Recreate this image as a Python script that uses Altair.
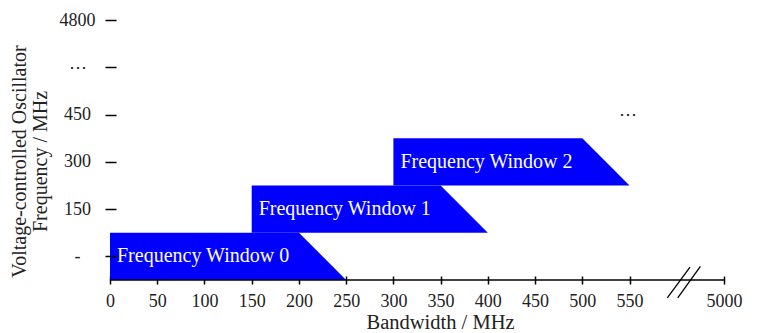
import altair as alt
import pandas as pd

# ---- data ----
windows = ["Frequency Window 0", "Frequency Window 1", "Frequency Window 2"]
vco_index = [0, 1, 2]              # band index on the VCO axis
bw_left = [0, 150, 300]            # left edge (MHz)
bw_top_right = [200, 350, 500]     # right edge at top of band (MHz)
bw_bottom_right = [250, 400, 550]  # right edge at bottom of band (MHz)

y_tick_values = [0, 1, 2, 3, 4, 5]
y_tick_labels = ["-", "150", "300", "450", "⋯", "4800"]

x_tick_values = [0, 50, 100, 150, 200, 250, 300, 350, 400, 450, 500, 550, 650]
x_tick_labels = ["0", "50", "100", "150", "200", "250", "300", "350", "400",
                 "450", "500", "550", "5000"]

break_x = [590, 601]
break_x2 = [614, 625]
break_y = [-0.88, -0.88]
break_y2 = [-0.23, -0.21]

ellipsis_x = [548]
ellipsis_y = [3]

FONT = "Liberation Serif"
BLUE = "#0000ff"

# ---- tables ----
rows = []
for w, c, l, tr, br in zip(windows, vco_index, bw_left, bw_top_right, bw_bottom_right):
    rows.append({"window": w, "vco": c - 0.5, "right": br, "left": l})
    rows.append({"window": w, "vco": c + 0.5, "right": tr, "left": l})
area_df = pd.DataFrame(rows)
label_df = pd.DataFrame({"window": windows, "vco": vco_index, "left": bw_left})
break_df = pd.DataFrame({"x": break_x, "x2": break_x2, "y": break_y, "y2": break_y2})
ell_df = pd.DataFrame({"x": ellipsis_x, "y": ellipsis_y, "t": ["⋯"]})

y_expr = "[" + ",".join("'" + s + "'" for s in y_tick_labels) + "][datum.value]"
x_expr = "{" + ",".join("'%d':'%s'" % (v, s) for v, s in zip(x_tick_values, x_tick_labels)) + "}[''+datum.value]"

x_scale = alt.Scale(domain=[0, 650], nice=False, zero=False)
y_scale = alt.Scale(domain=[-0.5, 5], nice=False, zero=False)

x_axis = alt.Axis(
    values=x_tick_values, labelExpr=x_expr, title="Bandwidth / MHz",
    domain=False, grid=False, offset=-4, tickSize=8, tickWidth=1.5,
    tickColor="black", labelPadding=8, labelFontSize=18, labelColor="#222",
    labelFont=FONT, titleFont=FONT, titleFontSize=20.5, titleFontWeight="normal",
    titleColor="#222", titleX=330, titleY=52, titleBaseline="alphabetic",
    labelFlush=False, labelOverlap=False,
)
y_axis = alt.Axis(
    values=y_tick_values, labelExpr=y_expr,
    title=["Voltage-controlled Oscillator", "Frequency / MHz"],
    domain=False, grid=False, offset=-6, tickSize=11, tickWidth=1.5,
    tickColor="black", labelPadding=28, labelAlign="center", labelFontSize=18,
    labelColor="#222", labelFont=FONT, titleFont=FONT, titleFontSize=20,
    titleFontWeight="normal", titleColor="#222", titleAngle=-90,
    titleAlign="center", titleBaseline="middle", titleLineHeight=21,
    titleX=-96.5, titleY=141, zindex=1, labelOverlap=False,
)

areas = alt.Chart(area_df).mark_area(orient="horizontal", color=BLUE, opacity=1).encode(
    y=alt.Y("vco:Q", scale=y_scale, axis=y_axis),
    x=alt.X("right:Q", scale=x_scale, axis=x_axis),
    x2="left:Q",
    detail="window:N",
)

labels = alt.Chart(label_df).mark_text(
    align="left", baseline="middle", dx=7, color="white", font=FONT, fontSize=20
).encode(x="left:Q", y="vco:Q", text="window:N")

domain_line = alt.Chart(pd.DataFrame({"a": [0]})).mark_rule(
    color="black", strokeWidth=1.5
).encode(x=alt.datum(0), x2=alt.datum(650), y=alt.datum(-0.5))

breaks = alt.Chart(break_df).mark_rule(color="black", strokeWidth=1.3, clip=False).encode(
    x="x:Q", x2="x2:Q", y="y:Q", y2="y2:Q"
)

ell = alt.Chart(ell_df).mark_text(
    align="center", baseline="middle", color="#222", font=FONT, fontSize=18
).encode(x="x:Q", y="y:Q", text="t:N")

chart = alt.layer(areas, labels, domain_line, breaks, ell).properties(
    width=614, height=260,
    autosize=alt.AutoSizeParams(type="none"),
    padding={"left": 102, "top": 12, "right": 26, "bottom": 53},
).configure_view(stroke=None)

chart.save("out.html", embed_options={"renderer": "svg", "actions": False})
